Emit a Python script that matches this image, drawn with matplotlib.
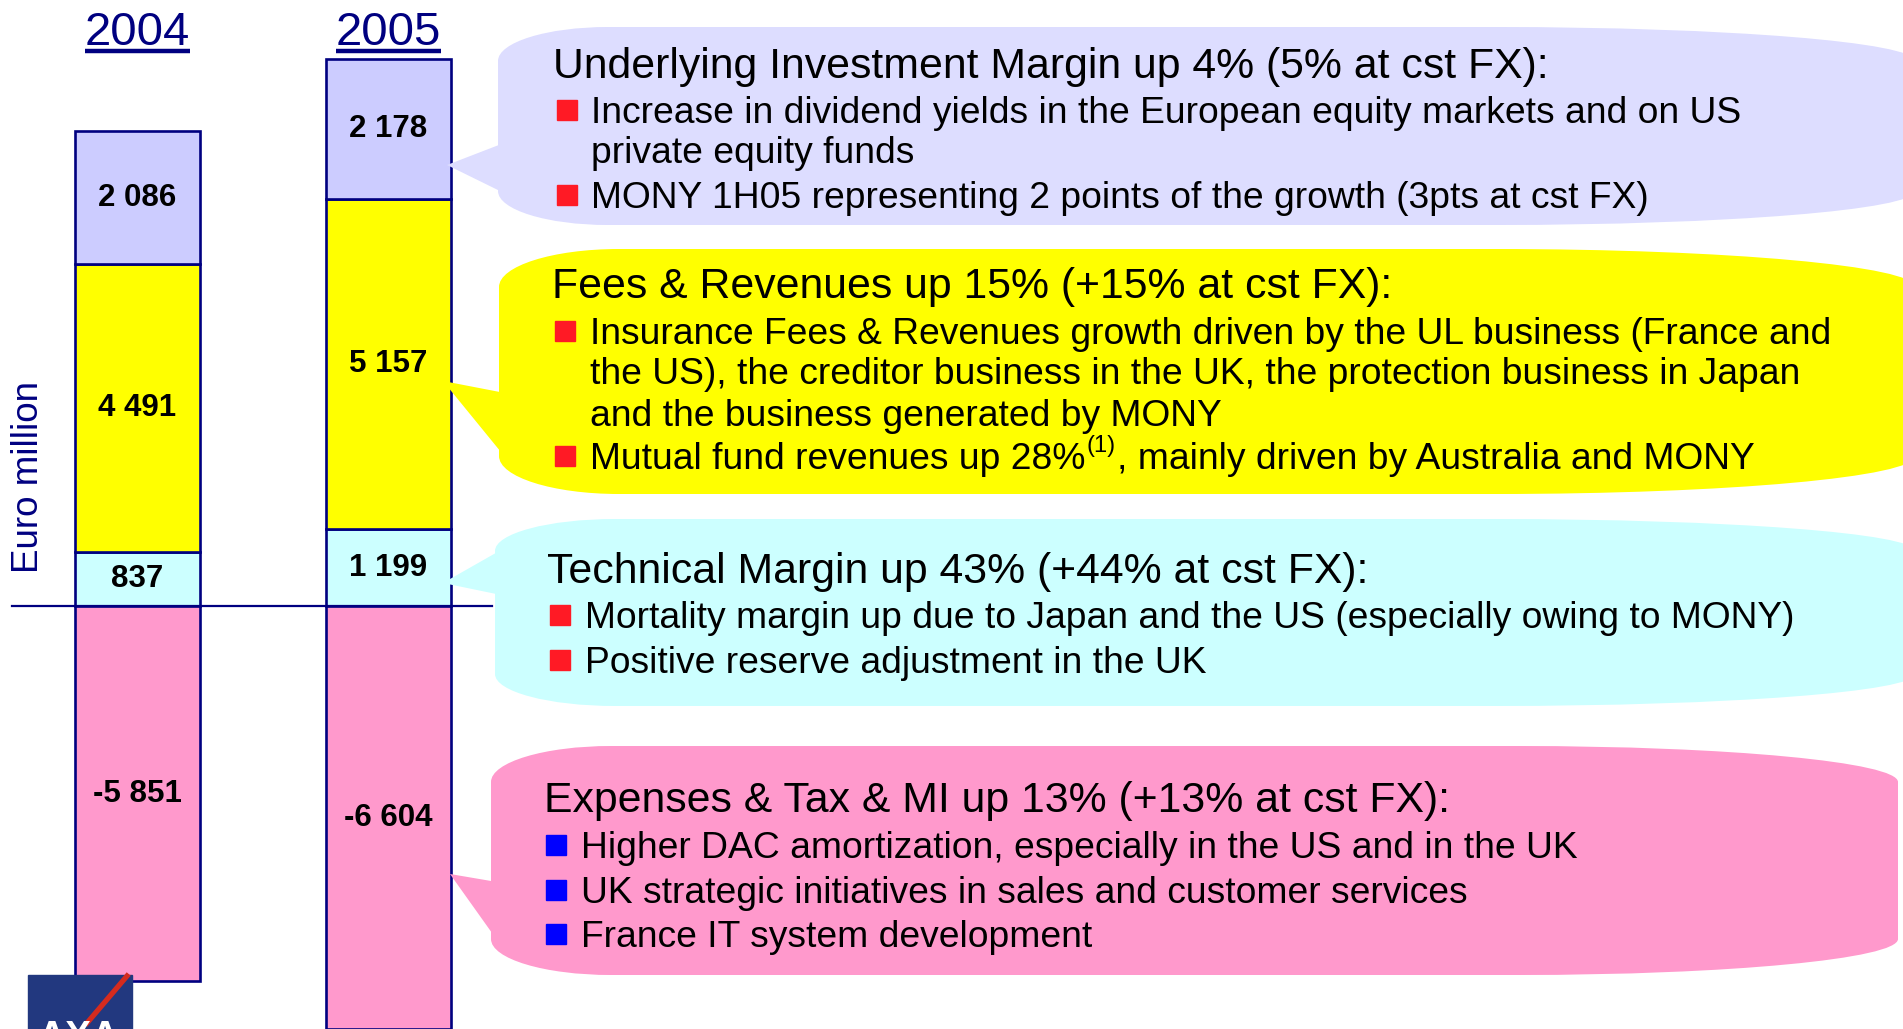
import matplotlib
matplotlib.use("Agg")
from matplotlib import pyplot as plt
from matplotlib.path import Path
from matplotlib.patches import PathPatch, Polygon, Rectangle
import matplotlib.transforms as mtransforms

plt.rcParams['font.family'] = ['Liberation Sans', 'DejaVu Sans']

# data (Euro million)
years = ['2004', '2005']
tech_margin = [837, 1199]
fees_revenues = [4491, 5157]
invest_margin = [2086, 2178]
expenses = [-5851, -6604]

navy = '#000080'
c_invest = '#CCCCFF'
c_fees = '#FFFF00'
c_tech = '#CCFFFF'
c_exp = '#FF99CC'

W, H = 1903, 1029
fig = plt.figure(figsize=(W / 100, H / 100), dpi=100)

# overlay in pixel coords for callouts/text
ov = fig.add_axes([0, 0, 1, 1], zorder=3)
ov.set_xlim(0, W)
ov.set_ylim(H, 0)
ov.axis('off')
ov.patch.set_visible(False)

# bars
px_per_unit = 0.0641
zero_px = 606
ax = fig.add_axes([0, 0, 500 / W, 1], zorder=2)
ax.patch.set_visible(False)
ax.axis('off')
ax.set_ylim(-(H - zero_px) / px_per_unit, zero_px / px_per_unit)
ax.set_xlim(-137.5 / 251, (500 - 137.5) / 251)

x = range(len(years))
bw = 125 / 251
kw = dict(width=bw, edgecolor=navy, linewidth=1.9)
ax.bar(x, tech_margin, color=c_tech, **kw)
bottom2 = [tech_margin[i] for i in x]
ax.bar(x, fees_revenues, bottom=bottom2, color=c_fees, **kw)
bottom3 = [tech_margin[i] + fees_revenues[i] for i in x]
ax.bar(x, invest_margin, bottom=bottom3, color=c_invest, **kw)
ax.bar(x, expenses, color=c_exp, **kw)
ax.axhline(0, xmin=12 / 500, xmax=492 / 500, color=navy, lw=1.6, zorder=5)


def fmt(v):
    return f"{v:,}".replace(',', ' ')


for i in x:
    segs = [(0, tech_margin[i]), (bottom2[i], fees_revenues[i]),
            (bottom3[i], invest_margin[i]), (0, expenses[i])]
    for b, v in segs:
        ax.text(i, b + v / 2, fmt(v), ha='center', va='center',
                fontsize=22.5, fontweight='bold', color='black', zorder=6)

# year headings
trans = mtransforms.blended_transform_factory(ax.transData, ax.transAxes)
renderer = fig.canvas.get_renderer()
for i, yr in enumerate(years):
    t = ax.text(i, 1 - 45 / H, yr, transform=trans, ha='center', va='baseline',
                fontsize=34, color=navy)
    bb = t.get_window_extent(renderer)
    ov.plot([bb.x0, bb.x1], [51, 51], color=navy, lw=3.2, solid_capstyle='butt')

ov.text(29, 477, 'Euro million', rotation=90, ha='center', va='center',
        fontsize=26.5, color=navy)

# AXA logo (partially visible)
ov.add_patch(Rectangle((28, 975), 104, 60, color='#22387F', zorder=1))
ov.plot([87, 127], [1023, 976], color='#D52B1E', lw=3.8, zorder=1)
ov.text(78, 1020, 'AXA', color='white', fontsize=28, fontweight='bold',
        ha='center', va='top', zorder=1)


def bubble(L, T, R, B, rxl, ry, rxr, tip, y1, y2, color):
    k = 0.5523
    verts = [(L, T + ry),
             (L, T + ry - k * ry), (L + rxl - k * rxl, T), (L + rxl, T),
             (R - rxr, T),
             (R - rxr + k * rxr, T), (R, T + ry - k * ry), (R, T + ry),
             (R, B - ry),
             (R, B - ry + k * ry), (R - rxr + k * rxr, B), (R - rxr, B),
             (L + rxl, B),
             (L + rxl - k * rxl, B), (L, B - ry + k * ry), (L, B - ry),
             (L, T + ry)]
    codes = [Path.MOVETO] + [Path.CURVE4] * 3 + [Path.LINETO] + [Path.CURVE4] * 3 + \
            [Path.LINETO] + [Path.CURVE4] * 3 + [Path.LINETO] + [Path.CURVE4] * 3 + \
            [Path.CLOSEPOLY]
    ov.add_patch(PathPatch(Path(verts, codes), facecolor=color, edgecolor='none', zorder=2))
    ov.add_patch(Polygon([tip, (L + 6, y1), (L + 6, y2)], closed=True,
                         facecolor=color, edgecolor='none', zorder=2))


bubble(498, 27, 1915, 225, 110, 34, 420, (447, 165), 143, 193, '#DDDDFF')
bubble(499, 249, 1915, 494, 120, 38, 420, (443, 381), 393, 457, c_fees)
bubble(495, 519, 1915, 706, 120, 32, 420, (443, 583), 550, 595, c_tech)
bubble(491, 746, 1898, 975, 120, 36, 380, (450, 874), 882, 940, c_exp)

title_fs = 30.8
bullet_fs = 26.8
title_off = 15
bullet_off = 13


def title(xp, yc, s):
    ov.text(xp, yc + title_off, s, fontsize=title_fs, va='baseline', ha='left', zorder=4)


def line(xp, yc, s, sq=None, sqcolor='#FF1A25'):
    t = ov.text(xp, yc + bullet_off, s, fontsize=bullet_fs, va='baseline', ha='left', zorder=4)
    if sq is not None:
        ov.add_patch(Rectangle((sq, yc - 10), 20, 20, color=sqcolor, zorder=4))
    return t


title(553, 63, 'Underlying Investment Margin up 4% (5% at cst FX):')
line(591, 110, 'Increase in dividend yields in the European equity markets and on US', sq=557)
line(591, 150, 'private equity funds')
line(591, 195, 'MONY 1H05 representing 2 points of the growth (3pts at cst FX)', sq=557)

title(552, 283, 'Fees & Revenues up 15% (+15% at cst FX):')
line(590, 331, 'Insurance Fees & Revenues growth driven by the UL business (France and', sq=555)
line(590, 371, 'the US), the creditor business in the UK, the protection business in Japan')
line(590, 413, 'and the business generated by MONY')
t1 = line(590, 456, 'Mutual fund revenues up 28%', sq=555)
bb = t1.get_window_extent(renderer)
t2 = ov.text(bb.x1 + 1, 456 - 4, '(1)', fontsize=17, va='baseline', ha='left', zorder=4)
bb2 = t2.get_window_extent(renderer)
ov.text(bb2.x1 + 1, 456 + bullet_off, ', mainly driven by Australia and MONY',
        fontsize=bullet_fs, va='baseline', ha='left', zorder=4)

title(547, 568, 'Technical Margin up 43% (+44% at cst FX):')
line(585, 615, 'Mortality margin up due to Japan and the US (especially owing to MONY)', sq=550)
line(585, 660, 'Positive reserve adjustment in the UK', sq=550)

title(544, 797, 'Expenses & Tax & MI up 13% (+13% at cst FX):')
line(581, 845, 'Higher DAC amortization, especially in the US and in the UK', sq=546, sqcolor='#0000FF')
line(581, 890, 'UK strategic initiatives in sales and customer services', sq=546, sqcolor='#0000FF')
line(581, 934, 'France IT system development', sq=546, sqcolor='#0000FF')

fig.savefig('out.png', dpi=100)
